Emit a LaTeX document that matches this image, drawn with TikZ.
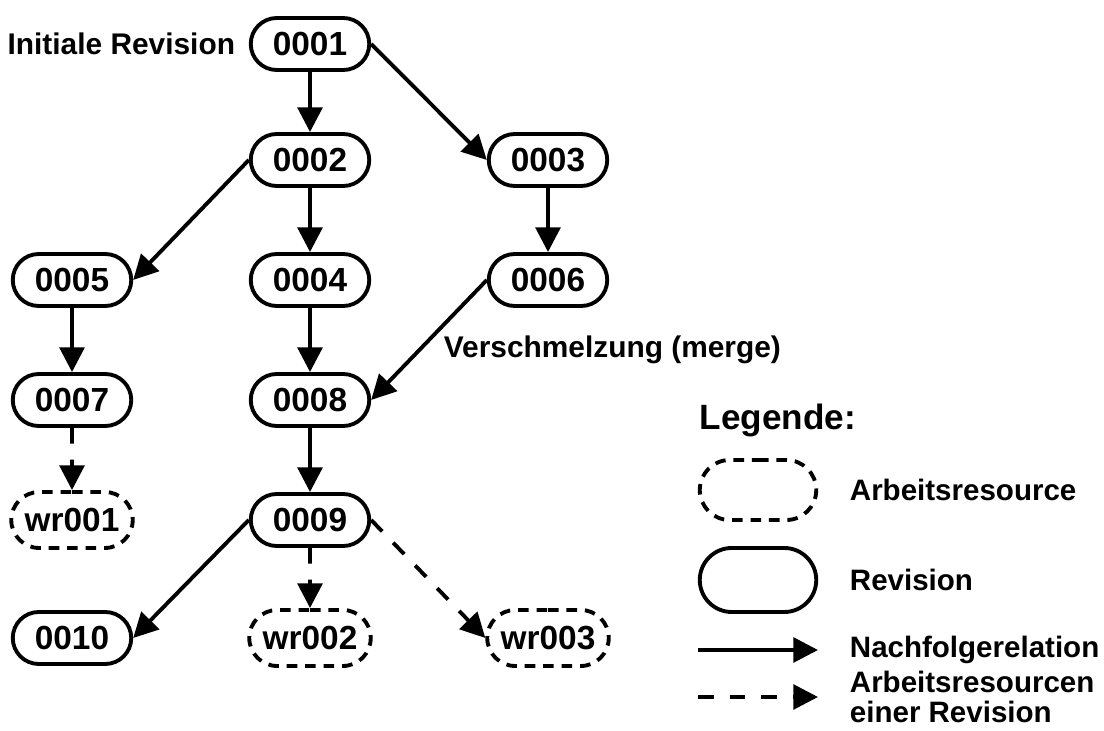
\documentclass[tikz,border=0pt]{standalone}
\usepackage{fontspec}
\setmainfont{Liberation Sans}
\usetikzlibrary{shapes.misc,arrows.meta}

\begin{document}
\begin{tikzpicture}[line width=2.2pt,
    rev/.style={draw,rounded rectangle,minimum width=2.44cm,minimum height=1.04cm,
      inner sep=1pt,font=\fontsize{19}{22}\selectfont\bfseries},
    wres/.style={rev,dash pattern=on 6pt off 4.5pt,minimum width=2.5cm,minimum height=1.12cm},
    folge/.style={-{Triangle[length=14pt,width=14pt]}},
    arbeit/.style={folge,dash pattern=on 9pt off 9pt},
    lab/.style={inner sep=0pt,font=\fontsize{17}{19}\selectfont\bfseries},
    leglab/.style={lab,anchor=west,font=\fontsize{16.8}{17}\selectfont\bfseries}]
  \useasboundingbox (0,0) rectangle (22.08,-14.62);
  % revisions
  \node[rev] (r1) at (6.2,-0.88) {0001};
  \node[rev] (r2) at (6.2,-3.2) {0002}; \node[rev] (r3) at (10.96,-3.2) {0003};
  \node[rev] (r5) at (1.44,-5.6) {0005}; \node[rev] (r4) at (6.2,-5.6) {0004};
  \node[rev] (r6) at (10.96,-5.6) {0006};
  \node[rev] (r7) at (1.44,-8.0) {0007}; \node[rev] (r8) at (6.2,-8.0) {0008};
  \node[wres] (w1) at (1.44,-10.4) {wr001}; \node[rev] (r9) at (6.2,-10.4) {0009};
  \node[rev] (r10) at (1.44,-12.76) {0010}; \node[wres] (w2) at (6.2,-12.76) {wr002};
  \node[wres] (w3) at (10.96,-12.76) {wr003};
  \node[lab,anchor=east] (init) at (4.74,-0.88) {Initiale Revision};
  \node[lab,anchor=west] (merge) at (8.84,-7.0) {Verschmelzung (merge)};
  % relations
  \draw[folge] (r1) -- (r2); \draw[folge] (r1.east) -- (r3.west);
  \draw[folge] (r2.west) -- (r5.east); \draw[folge] (r2) -- (r4);
  \draw[folge] (r3) -- (r6); \draw[folge] (r5) -- (r7); \draw[folge] (r4) -- (r8);
  \draw[folge] (r6.west) -- (r8.east); \draw[folge] (r8) -- (r9);
  \draw[folge] (r9.west) -- (r10.east);
  \draw[arbeit] (r7) -- (w1); \draw[arbeit] (r9) -- (w2);
  \draw[arbeit] (r9.east) -- (w3.west);
  % legend
  \node[lab,anchor=west,font=\fontsize{20}{24}\selectfont\bfseries] (leg) at (13.96,-8.4) {Legende:};
  \node[wres,minimum width=2.4cm,minimum height=1.2cm] (lw) at (15.16,-9.8) {};
  \node[rev,minimum width=2.4cm,minimum height=1.28cm] (lr) at (15.16,-11.6) {};
  \node[leglab] (tw) at (16.96,-9.8) {Arbeitsresource};
  \node[leglab] (tr) at (16.96,-11.6) {Revision};
  \coordinate (fa) at (13.96,-13.0); \coordinate (fb) at (16.36,-13.0);
  \coordinate (aa) at (13.96,-13.94); \coordinate (ab) at (16.36,-13.94);
  \draw[folge] (fa) -- (fb); \draw[arbeit] (aa) -- (ab);
  \node[leglab] (tf) at (16.96,-13.0) {Nachfolgerelation};
  \node[leglab,align=left] (ta) at (16.96,-13.94) {Arbeitsresourcen\\einer Revision};
\end{tikzpicture}
\end{document}
